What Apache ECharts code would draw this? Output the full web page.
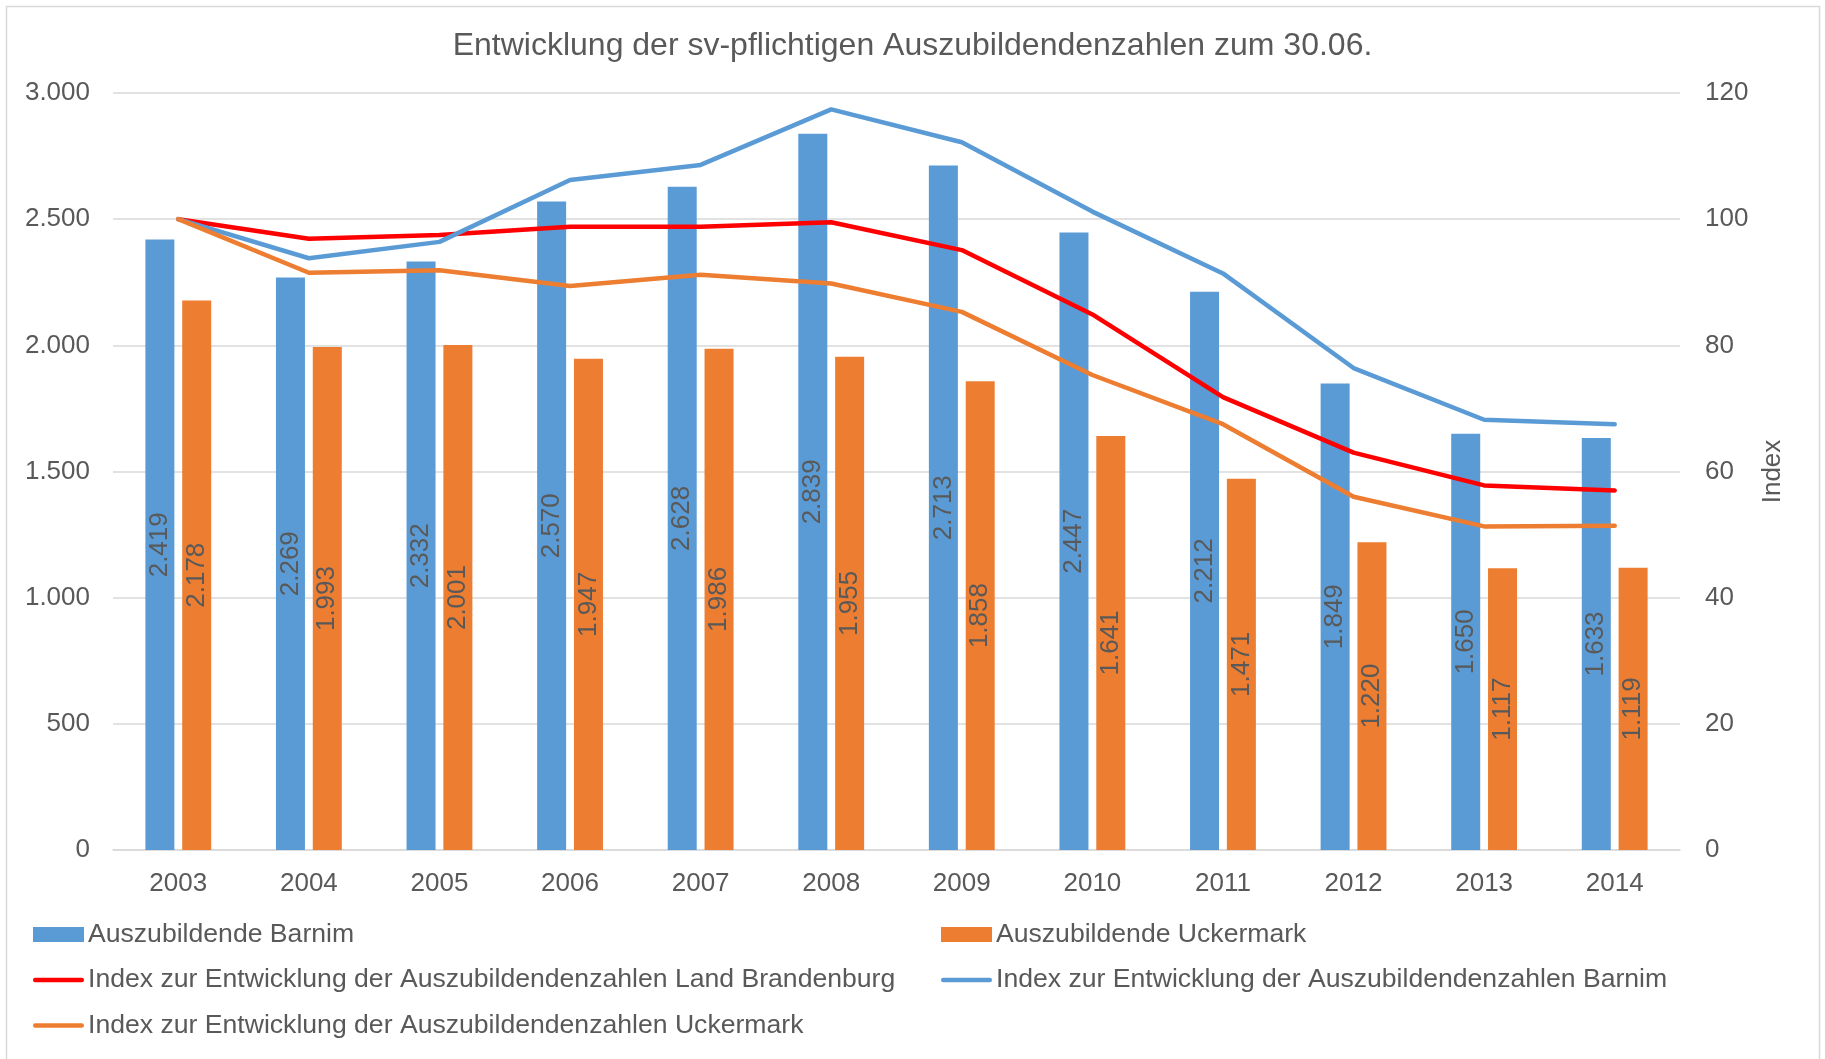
<!DOCTYPE html>
<html>
<head>
<meta charset="utf-8">
<script src="https://cdn.jsdelivr.net/npm/echarts@6/dist/echarts.min.js"></script>
<style>html,body{margin:0;padding:0;background:#fff}#c{width:1825px;height:1059px}</style>
</head>
<body>
<div id="c"></div>
<script>
const years = ['2003','2004','2005','2006','2007','2008','2009','2010','2011','2012','2013','2014'];
const barnim = [2419,2269,2332,2570,2628,2839,2713,2447,2212,1849,1650,1633];
const uckermark = [2178,1993,2001,1947,1986,1955,1858,1641,1471,1220,1117,1119];
const indexBrandenburg = [100,96.9,97.5,98.8,98.8,99.5,95.1,84.9,71.8,63.0,57.8,57.0];
const indexBarnim = [100,93.8,96.4,106.2,108.6,117.4,112.2,101.2,91.4,76.4,68.2,67.5];
const indexUckermark = [100,91.5,91.9,89.4,91.2,89.8,85.3,75.3,67.5,56.0,51.3,51.4];
const leftTicks = {min:0, max:3000, interval:500};
const rightTicks = {min:0, max:120, interval:20};

const names = {
  bB: 'Auszubildende Barnim',
  bU: 'Auszubildende Uckermark',
  iL: 'Index zur Entwicklung der Auszubildendenzahlen Land Brandenburg',
  iB: 'Index zur Entwicklung der Auszubildendenzahlen Barnim',
  iU: 'Index zur Entwicklung der Auszubildendenzahlen Uckermark'
};
const FONT = '"Liberation Sans", Arial, sans-serif';
const TXT = '#595959';
const BLUE = '#5B9BD5', ORANGE = '#ED7D31', RED = '#FF0000';
const de = v => String(v).replace(/\B(?=(\d{3})+(?!\d))/g, '.');
const LINE_ICON = 'path://M2,0H98A2,2 0 0 1 98,9H2A2,2 0 0 1 2,0Z';

const chart = echarts.init(document.getElementById('c'), null, {renderer:'canvas'});
const barLabel = {
  show: true, position: 'inside', rotate: 90, color: TXT,
  fontFamily: FONT, fontSize: 26, formatter: p => de(p.value)
};
const legendBase = {
  orient: 'vertical', itemWidth: 51, itemHeight: 15, itemGap: 18.5,
  textStyle: {color: TXT, fontFamily: FONT, fontSize: 26.6, padding:[0,0,0,-1]},
  selectedMode: false
};
chart.setOption({
  animation: false,
  backgroundColor: '#fff',
  textStyle: {fontFamily: FONT},
  title: {
    text: 'Entwicklung der sv-pflichtigen Auszubildendenzahlen zum 30.06.',
    left: 'center', top: 25,
    textStyle: {color: TXT, fontFamily: FONT, fontSize: 32, fontWeight: 'normal'}
  },
  graphic: [{
    type: 'rect', left: 4, top: 4, z: -1,
    shape: {width: 1813, height: 1070},
    style: {fill: 'none', stroke: '#D9D9D9', lineWidth: 1.5}
  }],
  legend: [
    Object.assign({}, legendBase, {left: 28, top: 916, data: [
      {name: names.bB, icon: 'rect'}, {name: names.iL, icon: LINE_ICON}, {name: names.iU, icon: LINE_ICON}
    ]}),
    Object.assign({}, legendBase, {left: 936, top: 916, data: [
      {name: names.bU, icon: 'rect'}, {name: names.iB, icon: LINE_ICON}
    ]})
  ],
  grid: {left: 113, right: 145, top: 93, bottom: 209, containLabel: false},
  xAxis: {
    type: 'category', data: years,
    axisLine: {lineStyle: {color: '#D9D9D9', width: 1.5}},
    axisTick: {show: false},
    axisLabel: {color: TXT, fontFamily: FONT, fontSize: 26, margin: 21}
  },
  yAxis: [{
    type: 'value', min: leftTicks.min, max: leftTicks.max, interval: leftTicks.interval,
    axisLine: {show: false}, axisTick: {show: false},
    splitLine: {lineStyle: {color: '#D9D9D9', width: 1.5}},
    axisLabel: {color: TXT, fontFamily: FONT, fontSize: 26, margin: 23, formatter: v => de(v)}
  }, {
    type: 'value', min: rightTicks.min, max: rightTicks.max, interval: rightTicks.interval,
    position: 'right',
    name: 'Index', nameLocation: 'middle', nameRotate: 90, nameGap: 80,
    nameTextStyle: {color: TXT, fontFamily: FONT, fontSize: 26},
    axisLine: {show: false}, axisTick: {show: false}, splitLine: {show: false},
    axisLabel: {color: TXT, fontFamily: FONT, fontSize: 26, margin: 25}
  }],
  series: [
    {name: names.bB, type: 'bar', data: barnim, barWidth: 29, barGap: '27%',
     itemStyle: {color: BLUE}, label: barLabel},
    {name: names.bU, type: 'bar', data: uckermark, barWidth: 29, barGap: '27%',
     itemStyle: {color: ORANGE}, label: barLabel},
    {name: names.iL, type: 'line', yAxisIndex: 1, data: indexBrandenburg, symbol: 'none',
     lineStyle: {color: RED, width: 4.5, cap: 'round', join: 'round'}, itemStyle: {color: RED}, z: 5},
    {name: names.iB, type: 'line', yAxisIndex: 1, data: indexBarnim, symbol: 'none',
     lineStyle: {color: BLUE, width: 4.5, cap: 'round', join: 'round'}, itemStyle: {color: BLUE}, z: 5},
    {name: names.iU, type: 'line', yAxisIndex: 1, data: indexUckermark, symbol: 'none',
     lineStyle: {color: ORANGE, width: 4.5, cap: 'round', join: 'round'}, itemStyle: {color: ORANGE}, z: 5}
  ]
});
</script>
</body>
</html>
